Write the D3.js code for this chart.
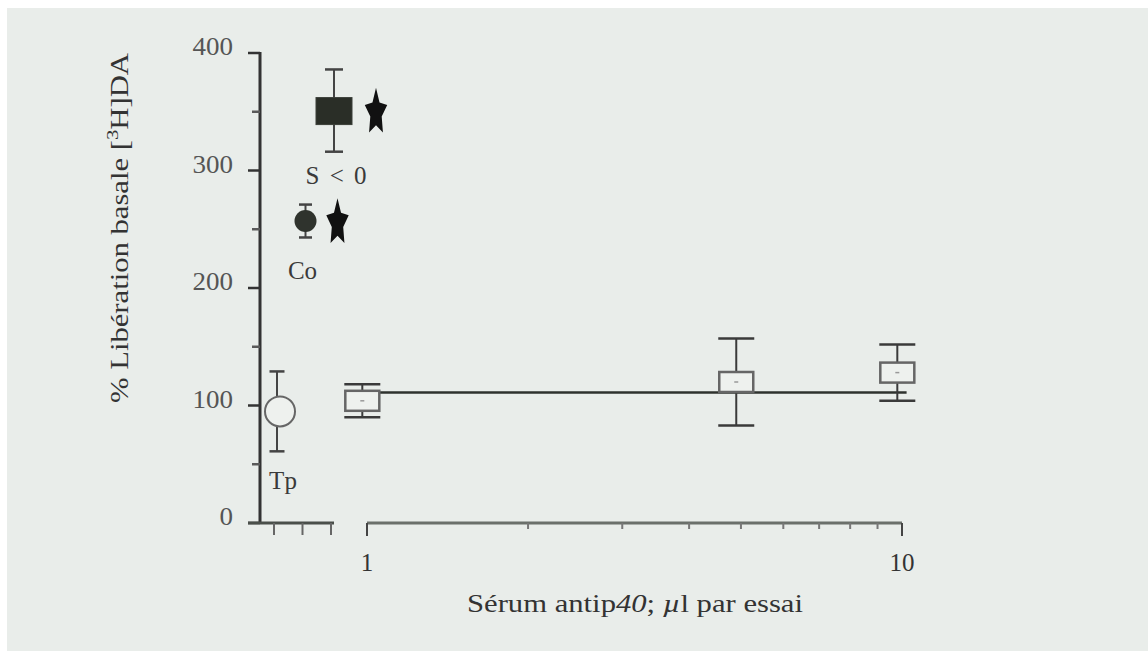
<!DOCTYPE html>
<html>
<head>
<meta charset="utf-8">
<script src="https://cdn.jsdelivr.net/npm/d3@7/dist/d3.min.js"></script>
<style>
  html, body { margin: 0; padding: 0; background: #ffffff; }
  svg { display: block; font-family: 'Liberation Serif', 'Times New Roman', Times, serif; }
</style>
</head>
<body>
<svg id="chart" width="1148" height="651"></svg>
<script>
// Control conditions (left, categorical part of the x axis)
const controlCats = ["Tp", "Co", "S < 0"];
const controlMean = [95, 257, 351];
const controlErr  = [34, 14, 35];
const controlStar = [false, true, true];

// Antiserum doses (µl per assay, log scale)
const serumDose = [0.98, 4.9, 9.8];
const serumMean = [104, 120, 128];
const serumErr  = [14, 37, 24];

// Mean level line across the dose range
const fitDose  = [0.98, 10.2];
const fitLevel = 111;

// Axis ticks
const yMajor = [0, 100, 200, 300, 400];
const yMinor = [50, 150, 250, 350];
const xMajor = [1, 10];
const xMinor = [2, 3, 4, 5, 6, 7, 8, 9];

const FONT = "'Liberation Serif', 'Times New Roman', Times, serif";
const svg = d3.select("#chart");
const W = 1148, H = 651;

// paper background
svg.append("rect").attr("x", 7).attr("y", 8).attr("width", W - 7).attr("height", H - 8)
  .attr("fill", "#e9edea");

const y = d3.scaleLinear().domain([0, 400]).range([523, 53]);
const x = d3.scaleLog().domain([1, 10]).range([367, 902]);
const xc = d3.scalePoint().domain(controlCats).range([277, 334]);

const axisX = 260;
const ink = "#333";
const grey = "#5a5a5a";

// ---- Y axis ----
const gy = svg.append("g");
gy.append("line").attr("x1", axisX).attr("x2", axisX)
  .attr("y1", y(400) - 1).attr("y2", y(0) + 1)
  .attr("stroke", ink).attr("stroke-width", 3);
gy.selectAll(".ymaj").data(yMajor).join("line")
  .attr("x1", axisX - 12).attr("x2", axisX)
  .attr("y1", d => y(d)).attr("y2", d => y(d))
  .attr("stroke", ink).attr("stroke-width", 2.5);
gy.selectAll(".ymin").data(yMinor).join("line")
  .attr("x1", axisX - 8).attr("x2", axisX)
  .attr("y1", d => y(d)).attr("y2", d => y(d))
  .attr("stroke", grey).attr("stroke-width", 2.5);
gy.selectAll(".ylab").data(yMajor).join("text")
  .attr("x", 233).attr("y", d => y(d) + 2)
  .attr("text-anchor", "end")
  .attr("font-family", FONT)
  .attr("font-size", 25).attr("fill", "#555")
  .attr("textLength", d => String(d).length * 13.5)
  .attr("lengthAdjust", "spacingAndGlyphs")
  .text(d => d);

// y axis title
svg.append("text")
  .attr("transform", "translate(128,228) rotate(-90)")
  .attr("text-anchor", "middle")
  .attr("font-family", FONT)
  .attr("font-size", 25).attr("fill", "#333")
  .attr("textLength", 350).attr("lengthAdjust", "spacingAndGlyphs")
  .call(t => {
    t.append("tspan").text("% Libération basale [");
    t.append("tspan").attr("font-size", 17).attr("dy", -10).text("3");
    t.append("tspan").attr("dy", 10).text("H]DA");
  });

// ---- X axis: control segment ----
const gxc = svg.append("g");
gxc.append("line")
  .attr("x1", axisX - 12).attr("x2", xc(controlCats[controlCats.length - 1]))
  .attr("y1", y(0)).attr("y2", y(0))
  .attr("stroke", "#4a4f4a").attr("stroke-width", 3);
gxc.selectAll("line.tk").data(controlCats).join("line").attr("class", "tk")
  .attr("x1", d => xc(d) - 3).attr("x2", d => xc(d) - 3)
  .attr("y1", y(0)).attr("y2", y(0) + 12)
  .attr("stroke", "#666").attr("stroke-width", 2);

// ---- X axis: dose segment (log) ----
const gx = svg.append("g");
gx.append("line").attr("x1", x(1)).attr("x2", x(10))
  .attr("y1", y(0)).attr("y2", y(0))
  .attr("stroke", "#6b706b").attr("stroke-width", 3);
gx.selectAll("line.maj").data(xMajor).join("line").attr("class", "maj")
  .attr("x1", d => x(d)).attr("x2", d => x(d))
  .attr("y1", y(0)).attr("y2", y(0) + 13)
  .attr("stroke", "#444").attr("stroke-width", 2);
gx.selectAll("line.min").data(xMinor).join("line").attr("class", "min")
  .attr("x1", d => x(d)).attr("x2", d => x(d))
  .attr("y1", y(0)).attr("y2", y(0) + 6)
  .attr("stroke", "#777").attr("stroke-width", 2);
gx.selectAll("text").data(xMajor).join("text")
  .attr("x", d => x(d)).attr("y", 571)
  .attr("text-anchor", "middle")
  .attr("font-family", FONT)
  .attr("font-size", 25).attr("fill", "#333")
  .text(d => d);

// x axis title
svg.append("text")
  .attr("x", 635).attr("y", 612)
  .attr("text-anchor", "middle")
  .attr("font-family", FONT)
  .attr("font-size", 25).attr("fill", "#333")
  .attr("textLength", 336).attr("lengthAdjust", "spacingAndGlyphs")
  .call(t => {
    t.append("tspan").text("Sérum antip");
    t.append("tspan").attr("font-style", "italic").text("40");
    t.append("tspan").text("; ");
    t.append("tspan").attr("font-style", "italic").text("µ");
    t.append("tspan").text("l par essai");
  });

// ---- level line ----
svg.append("line")
  .attr("x1", x(fitDose[0])).attr("x2", x(fitDose[1]))
  .attr("y1", y(fitLevel)).attr("y2", y(fitLevel))
  .attr("stroke", "#2e322e").attr("stroke-width", 2.5);

// ---- error bars helper ----
function errBar(g, cx, mean, err, cap, color) {
  g.append("line").attr("x1", cx).attr("x2", cx)
    .attr("y1", y(mean + err)).attr("y2", y(mean - err))
    .attr("stroke", color).attr("stroke-width", 2);
  [mean + err, mean - err].forEach(v => {
    g.append("line").attr("x1", cx - cap / 2).attr("x2", cx + cap / 2)
      .attr("y1", y(v)).attr("y2", y(v))
      .attr("stroke", color).attr("stroke-width", 2.5);
  });
}

// ---- dose points: open rectangles ----
const gs = svg.append("g");
serumDose.forEach((d, i) => {
  errBar(gs, x(d), serumMean[i], serumErr[i], 36, "#3a3a3a");
});
gs.selectAll("rect").data(serumDose).join("rect")
  .attr("x", d => x(d) - 17).attr("width", 34)
  .attr("y", (d, i) => y(serumMean[i]) - 10).attr("height", 20)
  .attr("fill", "#eef1ee").attr("stroke", "#666").attr("stroke-width", 2.5);
gs.selectAll("line.dot").data(serumDose).join("line").attr("class", "dot")
  .attr("x1", d => x(d) - 2).attr("x2", d => x(d) + 2)
  .attr("y1", (d, i) => y(serumMean[i])).attr("y2", (d, i) => y(serumMean[i]))
  .attr("stroke", "#999").attr("stroke-width", 1.5);

// ---- control points ----
const gc = svg.append("g");
const capW = [15, 13, 18];
controlCats.forEach((c, i) => {
  errBar(gc, xc(c), controlMean[i], controlErr[i], capW[i], "#444");
});

// Tp : open circle
gc.append("circle")
  .attr("cx", xc("Tp") + 3).attr("cy", y(controlMean[0])).attr("r", 15)
  .attr("fill", "#eef1ee").attr("stroke", "#666").attr("stroke-width", 2);
// Co : filled circle
gc.append("circle")
  .attr("cx", xc("Co")).attr("cy", y(controlMean[1])).attr("r", 11)
  .attr("fill", "#2f332d");
// S < 0 : filled square
gc.append("rect")
  .attr("x", xc("S < 0") - 18).attr("width", 36)
  .attr("y", y(controlMean[2]) - 13).attr("height", 27)
  .attr("fill", "#2a2e27").attr("stroke", "#3b3f38").attr("stroke-width", 1);

// significance stars: five-pointed, stretched vertically
const starPts = d3.range(10).map(k => [k * Math.PI / 5, k % 2 ? 6 : 11.8]);
const starPath = d3.lineRadial().curve(d3.curveLinearClosed)(starPts);
const starOffset = [0, 32, 42];
controlCats.forEach((c, i) => {
  if (!controlStar[i]) return;
  gc.append("path").attr("d", starPath)
    .attr("transform", `translate(${xc(c) + starOffset[i]},${y(controlMean[i]) + 2}) scale(1,2.1)`)
    .attr("fill", "#111");
});

// category labels, placed below each point
const labelPos = [[6, 78], [-3, 58], [3, 73]]; // [dx, baseline dy]
controlCats.forEach((c, i) => {
  gc.append("text")
    .attr("x", xc(c) + labelPos[i][0])
    .attr("y", y(controlMean[i]) + labelPos[i][1])
    .attr("text-anchor", "middle")
    .attr("font-family", FONT)
    .attr("font-size", 25).attr("fill", "#3a3a3a")
    .attr("letter-spacing", c === "S < 0" ? 2 : 0)
    .text(c);
});
</script>
</body>
</html>
